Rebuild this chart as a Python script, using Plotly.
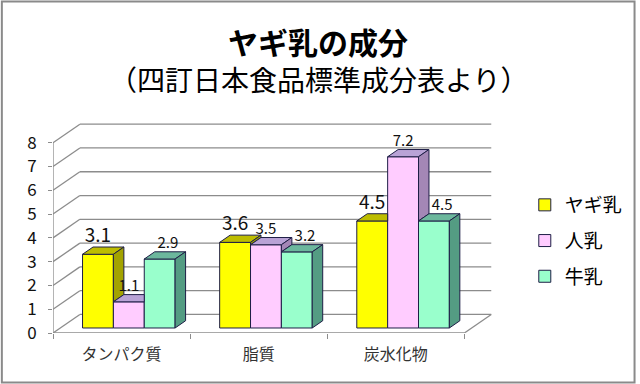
import plotly.graph_objects as go

# ---------------- data ----------------
categories = ["タンパク質", "脂質", "炭水化物"]
series_names = ["ヤギ乳", "人乳", "牛乳"]
goat_milk = [3.1, 3.6, 4.5]
human_milk = [1.1, 3.5, 7.2]
cow_milk = [2.9, 3.2, 4.5]
y_tick_values = [0, 1, 2, 3, 4, 5, 6, 7, 8]
title_text = "ヤギ乳の成分"
subtitle_text = "（四訂日本食品標準成分表より）"

series_values = [goat_milk, human_milk, cow_milk]

# ---------------- style ----------------
front_colors = ["#FFFF00", "#FFCCFF", "#99FFCC"]
top_colors = ["#BDBD00", "#B9A3D6", "#6CB79D"]
side_colors = ["#A3A300", "#A487B6", "#549C83"]
label_sizes = [19, 15, 15]
label_dx = [0.0, 0.0, 0.06]
EDGE = "#1E1E46"
GRID = "#8C8C8C"
FONT = "Noto Sans CJK JP, Noto Sans, sans-serif"

# pseudo-3D geometry (category units / value units)
DX = 0.196
DY = 0.78
D1 = 0.27
D2 = 0.66
W = 0.225
ncat = len(categories)
nser = len(series_values)
XMIN = -0.5
XMAX = ncat - 0.5 + DX + 0.02
YTOP = max(y_tick_values)
YMAX = YTOP + DY + 0.05


def proj(x, v, d):
    return (x + d * DX, v + d * DY)


fig = go.Figure()

# front faces as real bars
for k, (name, vals) in enumerate(zip(series_names, series_values)):
    off = -nser * W / 2 + k * W
    fig.add_trace(go.Bar(
        name=name,
        x=[i + D1 * DX for i in range(ncat)],
        y=vals,
        base=D1 * DY,
        width=W,
        offset=off,
        marker=dict(color=front_colors[k], line=dict(color=EDGE, width=1)),
        legendgroup=name,
        hoverinfo="skip",
    ))

# top and side faces
for i in range(ncat):
    for k in range(nser):
        vals = series_values[k]
        v = vals[i]
        vn = series_values[k + 1][i] if k + 1 < nser else None
        off = -nser * W / 2 + k * W
        xl = i + off
        xr = xl + W
        A = proj(xl, v, D1)
        B = proj(xr, v, D1)
        C = proj(xr, v, D2)
        Dp = proj(xl, v, D2)
        if vn is not None and vn > v:
            C = (B[0], C[1])
        pts = [A, B, C, Dp, A]
        fig.add_trace(go.Scatter(
            x=[p[0] for p in pts], y=[p[1] for p in pts],
            mode="lines", fill="toself", fillcolor=top_colors[k],
            line=dict(color=EDGE, width=1), showlegend=False, hoverinfo="skip",
        ))
        lo = 0 if vn is None else vn
        if lo < v:
            S = [proj(xr, lo, D1), proj(xr, v, D1), proj(xr, v, D2), proj(xr, lo, D2)]
            S.append(S[0])
            fig.add_trace(go.Scatter(
                x=[p[0] for p in S], y=[p[1] for p in S],
                mode="lines", fill="toself", fillcolor=side_colors[k],
                line=dict(color=EDGE, width=1), showlegend=False, hoverinfo="skip",
            ))

# data labels
for k, vals in enumerate(series_values):
    off = -nser * W / 2 + k * W
    fig.add_trace(go.Scatter(
        x=[i + off + W / 2 + D1 * DX + label_dx[k] for i in range(ncat)],
        y=[v + D2 * DY for v in vals],
        text=[f"{v:.1f}" for v in vals],
        mode="text", textposition="top center",
        textfont=dict(size=label_sizes[k], color="#111111", family=FONT),
        showlegend=False, hoverinfo="skip", cliponaxis=False,
    ))

# walls / grid
shapes = []
for v in y_tick_values:
    shapes.append(dict(type="line", xref="x", yref="y", layer="below",
                       x0=XMIN + DX, x1=ncat - 0.5 + DX, y0=v + DY, y1=v + DY,
                       line=dict(color=GRID, width=1.3)))
    shapes.append(dict(type="line", xref="x", yref="y", layer="below",
                       x0=XMIN, x1=XMIN + DX, y0=v, y1=v + DY,
                       line=dict(color=GRID, width=1.3)))
shapes.append(dict(type="line", xref="x", yref="y", layer="below",
                   x0=XMIN, x1=ncat - 0.5, y0=0, y1=0, line=dict(color=GRID, width=1.3)))
shapes.append(dict(type="line", xref="x", yref="y", layer="below",
                   x0=ncat - 0.5, x1=ncat - 0.5 + DX, y0=0, y1=DY, line=dict(color=GRID, width=1.3)))
shapes.append(dict(type="line", xref="x", yref="y", layer="below",
                   x0=XMIN, x1=XMIN, y0=0, y1=YTOP, line=dict(color=GRID, width=1.3)))
shapes.append(dict(type="rect", xref="paper", yref="paper",
                   x0=(1.5 - 53) / 444, x1=(638.5 - 53) / 444,
                   y0=(333 - 382.5) / 210, y1=(333 - 1.5) / 210,
                   line=dict(color="#8A8A8A", width=2)))

annotations = [
    dict(text=f"<b>{title_text}</b>", xref="paper", yref="paper",
         x=(320 - 53) / 444, y=(333 - 41) / 210, xanchor="center", yanchor="middle",
         showarrow=False, font=dict(size=30, family=FONT, color="black")),
    dict(text=subtitle_text, xref="paper", yref="paper",
         x=(320 - 53) / 444, y=(333 - 79) / 210, xanchor="center", yanchor="middle",
         showarrow=False, font=dict(size=28, family=FONT, color="black")),
]

fig.update_layout(
    width=640, height=384,
    margin=dict(l=53, r=143, t=123, b=51),
    paper_bgcolor="white", plot_bgcolor="white",
    barmode="overlay",
    font=dict(family=FONT, color="black"),
    shapes=shapes,
    annotations=annotations,
    xaxis=dict(
        range=[XMIN, XMAX], tickvals=list(range(ncat)), ticktext=categories,
        showgrid=False, zeroline=False, showline=False, ticks="",
        tickfont=dict(size=16, color="#333333"), ticklabelstandoff=10,
        minor=dict(tickvals=[i - 0.5 for i in range(ncat + 1)], ticks="outside",
                   ticklen=5, tickcolor=GRID, tickwidth=1.3),
        fixedrange=True,
    ),
    yaxis=dict(
        range=[0, YMAX], tickvals=y_tick_values,
        showgrid=False, zeroline=False, showline=False,
        ticks="outside", ticklen=4, tickcolor=GRID, tickwidth=1.3,
        tickfont=dict(size=17, color="#111111"), ticklabelstandoff=8,
        fixedrange=True,
    ),
    legend=dict(
        x=(528 - 53) / 444, y=(333 - 241) / 210, xanchor="left", yanchor="middle",
        font=dict(size=19, family=FONT), traceorder="grouped", tracegroupgap=8,
        bgcolor="rgba(0,0,0,0)",
    ),
)

fig.write_html(
    "out.html",
    config={"displayModeBar": False},
    post_script="document.body.style.margin='0';document.body.style.overflow='hidden';",
)
